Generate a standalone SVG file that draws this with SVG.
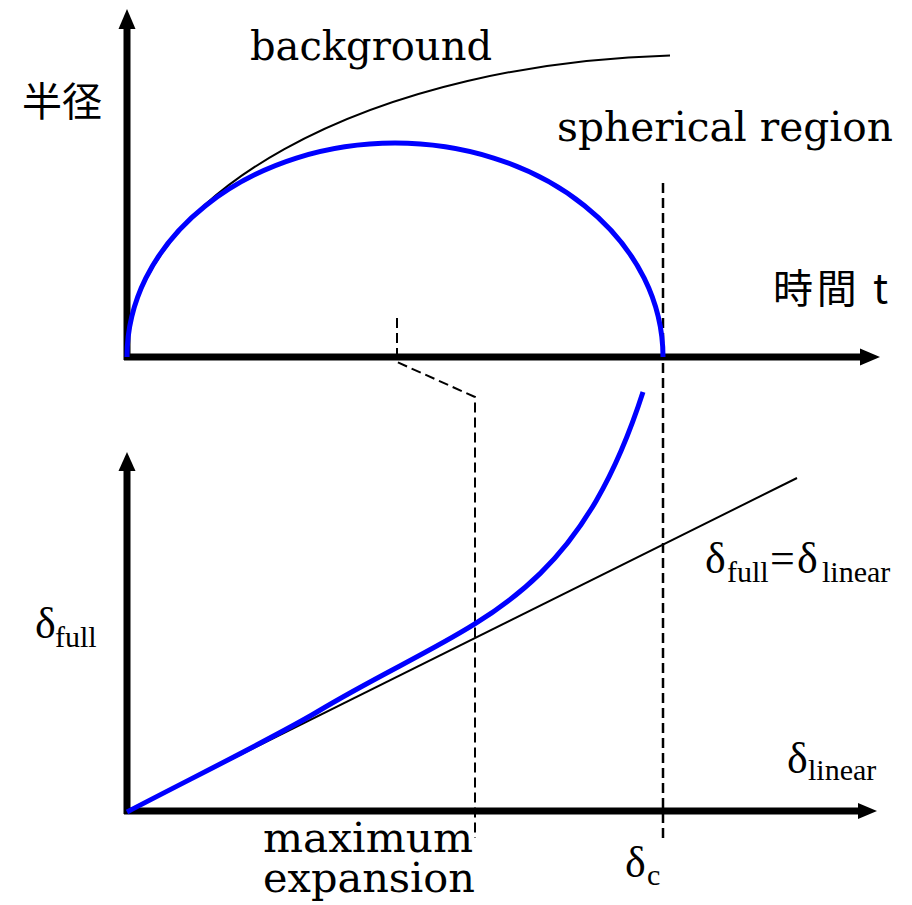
<svg xmlns="http://www.w3.org/2000/svg" width="912" height="905" viewBox="0 0 912 905">
<style>
.axis{stroke:#000;stroke-width:7;fill:none}
.head{fill:#000}
.blue{stroke:#0000ff;stroke-width:5;fill:none;stroke-linecap:butt}
.thin{stroke:#000;stroke-width:2;fill:none}
.dash{stroke:#000;stroke-width:2.5;fill:none;stroke-dasharray:10 5}
.dash2{stroke:#000;stroke-width:2;fill:none;stroke-dasharray:10 5}
.serif{font-family:"DejaVu Serif",serif;font-size:41px;fill:#000}
.cjk{font-family:"Noto Sans CJK JP",sans-serif;font-size:40px;fill:#000}
.d{font-family:"Liberation Serif",serif;font-size:44px;fill:#000}
.sub{font-family:"Liberation Serif",serif;font-size:30px;fill:#000}
</style>
<rect width="912" height="905" fill="#fff"/>
<g id="top-axes">
<path class="axis" d="M127,360 L127,26 M124,357 L862,357"/>
<polygon class="head" points="127,9 118.5,29 135.5,29"/>
<polygon class="head" points="880,357 860,348.5 860,365.5"/>
</g>
<g id="bottom-axes">
<path class="axis" d="M127,814 L127,468 M124,811 L860,811"/>
<polygon class="head" points="127,452 118.5,471 135.5,471"/>
<polygon class="head" points="877,811 858,803 858,819"/>
</g>
<g id="connectors">
<path class="dash" d="M663,183 L663,840"/>
<path class="dash2" d="M397,318 L397,362 L475,397 L475,838"/>
</g>
<g id="background-curve">
<path class="thin" d="M127,357 A573,302 0 0 1 670,55.4"/>
</g>
<g id="spherical-curve">
<path class="blue" d="M127,357 A268,214 0 0 1 663,357"/>
</g>
<g id="linear-line">
<path class="thin" d="M127,811 L797,478"/>
</g>
<g id="full-curve">
<path class="blue" d="M127,812 C190,779 277,736 317,712 C467,622 573,609 643,392"/>
</g>
<g id="labels">
<text class="cjk" x="22" y="116" font-size="44">半径</text>
<text class="serif" x="250" y="60" textLength="242" lengthAdjust="spacingAndGlyphs">background</text>
<text class="serif" x="557" y="141" textLength="336" lengthAdjust="spacingAndGlyphs">spherical region</text>
<text class="cjk" x="773" y="303" font-size="42" textLength="115" lengthAdjust="spacing">時間 t</text>
<text class="d" x="35" y="638">δ</text><text class="sub" x="55" y="647">full</text>
<text class="d" x="705" y="573">δ</text><text class="sub" x="727" y="582">full</text><text class="d" x="770" y="573">=</text><text class="d" x="797" y="573">δ</text><text class="sub" x="822" y="582">linear</text>
<text class="d" x="787" y="773">δ</text><text class="sub" x="808" y="780">linear</text>
<text class="serif" x="263" y="852" font-size="39" textLength="210" lengthAdjust="spacingAndGlyphs">maximum</text>
<text class="serif" x="263" y="892" font-size="39" textLength="212" lengthAdjust="spacingAndGlyphs">expansion</text>
<text class="d" x="625" y="877">δ</text><text class="sub" x="647" y="885">c</text>
</g>
</svg>
